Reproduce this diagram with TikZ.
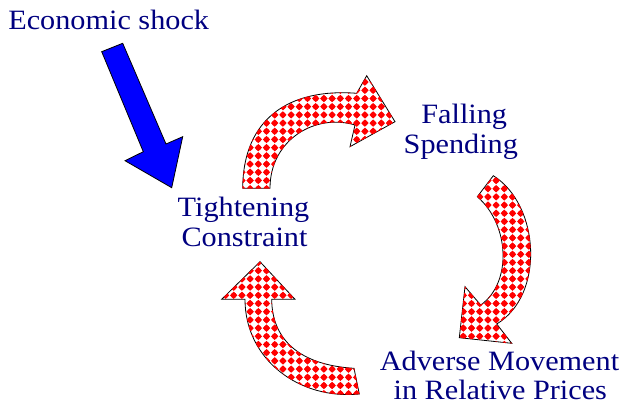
\documentclass[tikz,border=0pt]{standalone}
\usepackage{fontspec}
\setmainfont[FakeStretch=1.08]{Liberation Serif}
\usetikzlibrary{patterns}
\definecolor{txtblue}{RGB}{0,0,128}
\definecolor{shockblue}{RGB}{0,0,255}
\pgfdeclarepatternformonly{reddiamonds}{\pgfqpoint{-1pt}{-1pt}}{\pgfqpoint{9pt}{9pt}}{\pgfqpoint{8.2pt}{8.2pt}}{%
  \pgfpathmoveto{\pgfqpoint{4.1pt}{0.4pt}}%
  \pgfpathlineto{\pgfqpoint{7.8pt}{4.1pt}}%
  \pgfpathlineto{\pgfqpoint{4.1pt}{7.8pt}}%
  \pgfpathlineto{\pgfqpoint{0.4pt}{4.1pt}}%
  \pgfpathclose
  \pgfusepath{fill}%
  \pgfpathcircle{\pgfqpoint{4.1pt}{4.1pt}}{2.8pt}%
  \pgfusepath{fill}%
}
\tikzset{
  lbl/.style={anchor=base, text=txtblue, inner sep=0pt, text depth=0pt, font=\fontsize{28}{30}\selectfont},
  cycarrow/.style={draw=black, line width=0.8pt, line join=miter, fill=white,
    postaction={pattern=reddiamonds, pattern color=red}},
  shockarrow/.style={draw=black, line width=0.8pt, fill=shockblue, line join=miter}
}
\begin{document}
\begin{tikzpicture}[x=1pt, y=-1pt]
\useasboundingbox (0,0) rectangle (628,406);
% shock arrow
\draw[shockarrow] (101.7,51.7) -- (122.7,43.3) -- (166,144) -- (182.7,136.7)
  -- (171.7,187.7) -- (125,160.7) -- (143.3,151.7) -- cycle;
% top cycle arrow
\draw[cycarrow] (242.7,188.3) .. controls (243,118) and (290,88) .. (356.7,93.3)
  -- (366.7,75.7) -- (395,121.7) -- (350,146.7) -- (355,125)
  .. controls (315,113) and (270,140) .. (270,188.3) -- cycle;
% right cycle arrow
\draw[cycarrow] (493.3,175.7) .. controls (540,205) and (545,295) .. (496.7,324)
  -- (511.7,343.3) -- (459.3,337.7) -- (465,286.7) -- (480.7,305)
  .. controls (512,283) and (510,225) .. (477.3,196.7) -- cycle;
% bottom-left cycle arrow
\draw[cycarrow] (359.3,394) .. controls (300,400) and (245,360) .. (245,299.3)
  -- (221.7,299.3) -- (260,261.7) -- (295,299.3) -- (271.7,299.3)
  .. controls (272,340) and (300,365) .. (354,368.3) -- cycle;
% labels
\node[lbl] (shock) at (108.7,29.3) {Economic shock};
\node[lbl] (tight1) at (243.5,216) {Tightening};
\node[lbl] (tight2) at (244.5,246) {Constraint};
\node[lbl] (fall1) at (464.2,123.3) {Falling};
\node[lbl] (fall2) at (460.8,153.3) {Spending};
\node[lbl] (adv1) at (499.5,370.5) {Adverse Movement};
\node[lbl] (adv2) at (500.3,399.5) {in Relative Prices};
\end{tikzpicture}
\end{document}
